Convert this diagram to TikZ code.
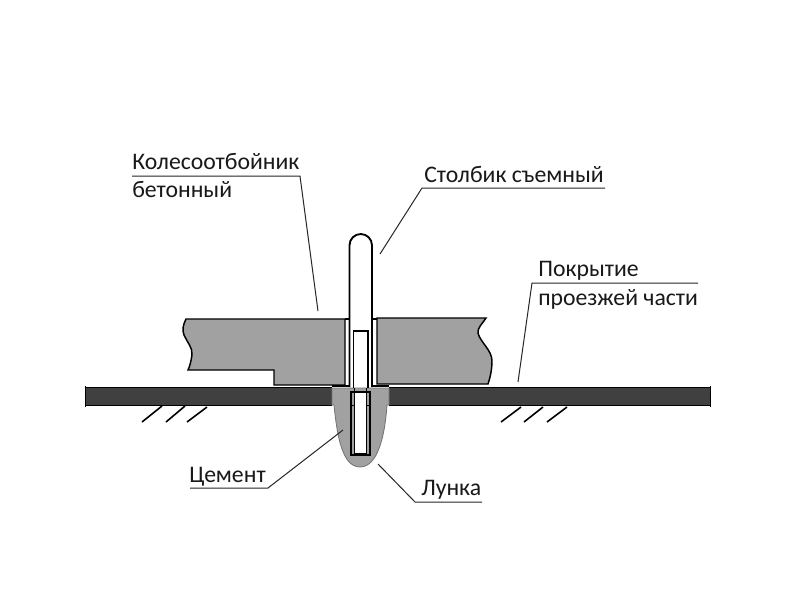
\documentclass[tikz,border=0pt]{standalone}
\usepackage{fontspec}
\setmainfont{Carlito}
\tikzset{
  px/.style={x=0.75pt,y=-0.75pt},
  leader/.style={draw=black!85,line width=0.75pt},
  ground/.style={draw=black,line width=1.2pt},
  label/.style={font=\fontsize{17.8pt}{20pt}\selectfont,text=black!90,inner sep=0pt,anchor=base west},
  edge/.style={draw=black,line width=1.1pt},
  concrete/.style={fill=black!37},
}
\begin{document}
\begin{tikzpicture}[px]
\useasboundingbox (0,0) rectangle (800,600);
\fill[white] (0,0) rectangle (800,600);

% road
\fill[black!75] (85,388) rectangle (332,405);
\fill[black!75] (389,388) rectangle (710,405);
\draw[edge,line width=.9pt] (85,387.5) -- (332,387.5) (389,387.5) -- (710,387.5);
\draw[edge,line width=.9pt] (85,405.5) -- (332,405.5) (389,405.5) -- (710,405.5);
\draw[edge,line width=.7pt] (85,386) -- (85,407) (710,386) -- (710,407);

% hole
\path[concrete,draw=black!55,line width=.6pt] (332,388) -- (332,405) -- (334,405)
  .. controls (337,435) and (342,467) .. (360,467)
  .. controls (378,467) and (385,435) .. (387,405) -- (389,405) -- (389,388) -- cycle;

% concrete blocks
\path[concrete,edge] (186,319) .. controls (183,325) and (182,330) .. (184,335)
  .. controls (187,342) and (193,348) .. (192,355)
  .. controls (191,361) and (190,366) .. (188,370)
  -- (274,370) -- (274,385) -- (345,385) -- (345,319) -- cycle;
\path[concrete,edge] (486,318) .. controls (483,323) and (477,328) .. (478,333)
  .. controls (480,342) and (492,350) .. (492,361)
  .. controls (492,370) and (490,378) .. (488,384)
  -- (377,384) -- (377,318) -- cycle;
\draw[edge,line width=.8pt] (345,319) -- (349,319) (372,319) -- (377,319);

% post
\draw[edge,line width=1.4pt,rounded corners=8.5pt] (349.5,387) -- (349.5,234) -- (372,234) -- (372,387);
\draw[edge,line width=.95pt] (353.5,388) -- (353.5,331) -- (368,331) -- (368,388);
% flange
\draw[draw=black,line width=2pt] (332,386) -- (349,386) (372,386) -- (389,386);

% sleeve
\fill[white] (354.5,391) rectangle (366,453);
\draw[edge,line width=.8pt] (351,392) -- (370,392) -- (370,455) -- (351,455) -- cycle;
\draw[edge,line width=.7pt] (354.5,388) -- (354.5,453) -- (366,453) -- (366,388);
\draw[edge,line width=.6pt] (351,405) -- (354.5,405) (366,405) -- (370,405);

% ground hatches
\draw[ground] (162,406) -- (142,422) (185,406) -- (166,422) (207,407) -- (187,422);
\draw[ground] (521,407) -- (501,422) (543,407) -- (524,422) (567,407) -- (547,422);

% labels
\node[label] (kol) at (132,169) {Колесоотбойник};
\node[label] (bet) at (132,197) {бетонный};
\node[label] (sto) at (424,182) {Столбик съемный};
\node[label] (pok) at (538,276) {Покрытие};
\node[label] (pro) at (538,305) {проезжей части};
\node[label] (cem) at (189,482) {Цемент};
\node[label] (lun) at (421,495) {Лунка};

% leaders
\coordinate (kolA) at (132,176); \coordinate (kolB) at (300,176); \coordinate (kolC) at (318,311);
\coordinate (stoA) at (605,188); \coordinate (stoB) at (422,188); \coordinate (stoC) at (380,254);
\coordinate (pokA) at (698,283); \coordinate (pokB) at (532,283); \coordinate (pokC) at (518,382);
\coordinate (cemA) at (190,488); \coordinate (cemB) at (268,488); \coordinate (cemC) at (343,430);
\coordinate (lunA) at (482,502); \coordinate (lunB) at (415,502); \coordinate (lunC) at (378,464);
\draw[leader] (kolA) -- (kolB) -- (kolC);
\draw[leader] (stoA) -- (stoB) -- (stoC);
\draw[leader] (pokA) -- (pokB) -- (pokC);
\draw[leader] (cemA) -- (cemB) -- (cemC);
\draw[leader] (lunA) -- (lunB) -- (lunC);
\end{tikzpicture}
\end{document}
